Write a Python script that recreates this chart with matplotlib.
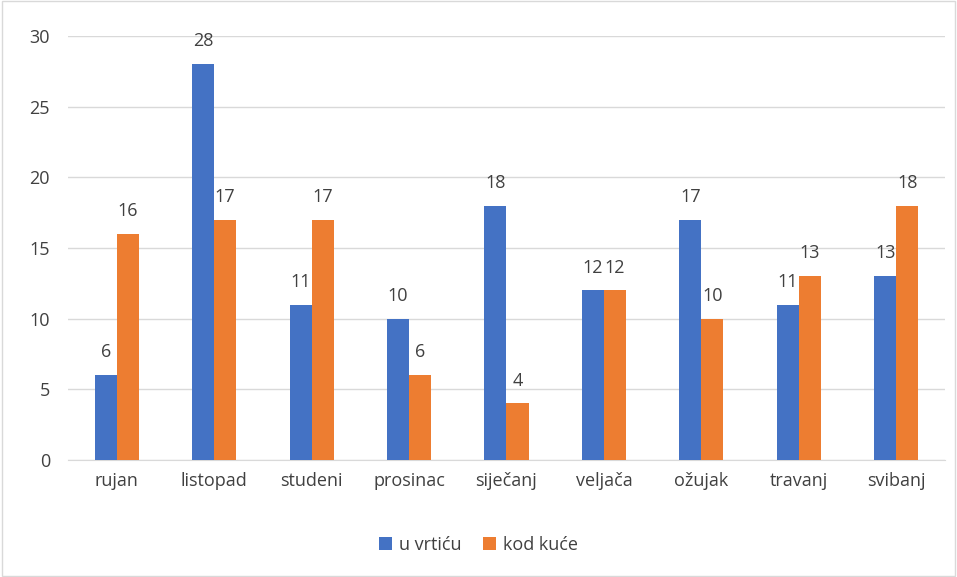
import matplotlib.pyplot as plt
import numpy as np
from matplotlib.patches import Rectangle

months = ["rujan", "listopad", "studeni", "prosinac", "siječanj",
          "veljača", "ožujak", "travanj", "svibanj"]
u_vrticu = [6, 28, 11, 10, 18, 12, 17, 11, 13]
kod_kuce = [16, 17, 17, 6, 4, 12, 10, 13, 18]
y_ticks = [0, 5, 10, 15, 20, 25, 30]

blue = "#4472C4"
orange = "#ED7D31"
plt.rcParams['font.family'] = ['Open Sans', 'DejaVu Sans']

fig = plt.figure(figsize=(9.57, 5.77), dpi=100)
ax = fig.add_axes([68/957, 1 - 460/577, 877/957, 424/577])

x = np.arange(len(months))
w = 0.226
b1 = ax.bar(x - w/2, u_vrticu, w, color=blue, label="u vrtiću", zorder=3)
b2 = ax.bar(x + w/2, kod_kuce, w, color=orange, label="kod kuće", zorder=3)
ax.bar_label(b1, padding=10, fontsize=13, color="#404040")
ax.bar_label(b2, padding=10, fontsize=13, color="#404040")

ax.set_xlim(-0.5, len(months) - 0.5)
ax.set_ylim(0, 30)
ax.set_yticks(y_ticks)
ax.set_xticks(x)
ax.set_xticklabels(months)
ax.tick_params(axis="both", length=0, labelsize=13, labelcolor="#404040")
ax.tick_params(axis="x", pad=9)
ax.tick_params(axis="y", pad=13)
ax.yaxis.grid(True, color="#D9D9D9", linewidth=1, zorder=0)
for s in ["top", "right", "left"]:
    ax.spines[s].set_visible(False)
ax.spines["bottom"].set_color("#D9D9D9")

fig.legend(loc="center", bbox_to_anchor=(0.5, 1 - 545/577), ncol=2, frameon=False,
           fontsize=13, handlelength=0.7, handleheight=0.7, columnspacing=1.2,
           handletextpad=0.4, labelcolor="#404040")

fig.patches.append(Rectangle((0.002, 0.002), 0.996, 0.996, transform=fig.transFigure,
                             fill=False, edgecolor="#D9D9D9", linewidth=1))

fig.savefig("out.png", dpi=100)
